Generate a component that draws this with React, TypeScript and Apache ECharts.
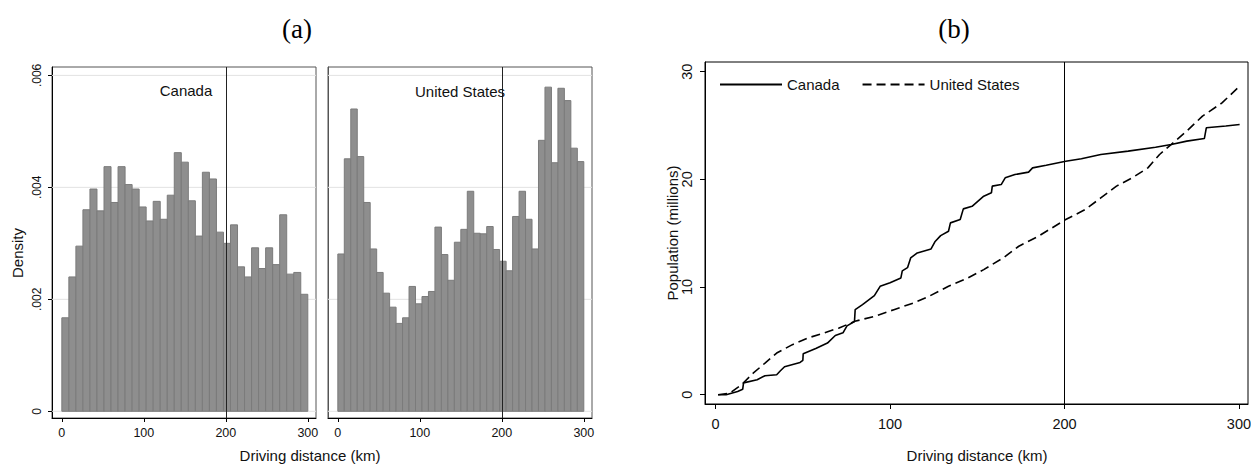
import React, { useEffect, useRef } from "react";
import * as echarts from "echarts";

// Panel (a): histogram densities (bins over 0–300 km)
const canadaDensity = [
  0.00167, 0.0024, 0.00295, 0.0036, 0.00397, 0.00358, 0.00437, 0.00373, 0.00437,
  0.00405, 0.00397, 0.00365, 0.0034, 0.00375, 0.00343, 0.00386, 0.00462, 0.00445,
  0.00376, 0.00313, 0.00427, 0.00415, 0.0032, 0.003, 0.00333, 0.00258, 0.0024,
  0.00292, 0.00255, 0.00292, 0.00262, 0.00351, 0.00245, 0.00248, 0.00209,
];
const usDensity = [
  0.00281, 0.00451, 0.0054, 0.00455, 0.00373, 0.0029, 0.00248, 0.00211, 0.00186,
  0.00157, 0.00167, 0.00223, 0.00192, 0.00205, 0.00214, 0.00329, 0.0028, 0.00234,
  0.00302, 0.00325, 0.00393, 0.00318, 0.00317, 0.0033, 0.00289, 0.00268, 0.00251,
  0.00348, 0.00393, 0.00343, 0.0029, 0.00484, 0.00579, 0.00444, 0.00577, 0.00555,
  0.0047, 0.00446,
];
const histRange = [0, 300];
const densityTicks = [0, 0.002, 0.004, 0.006];
const distanceTicks = [0, 100, 200, 300];
const cutoffKm = 200;

// Panel (b): cumulative population (millions) by driving distance (km)
const canadaKm = [
  1.4, 6, 12.6, 15.5, 16, 23.8, 28.3, 35, 37, 39.5, 48.4, 50, 50.2, 57.4, 64.1, 68.6,
  73, 75.3, 79.6, 80, 84.2, 91, 94.3, 100, 106.2, 107, 110, 111.8, 115.6, 123.5,
  125.7, 129, 133.5, 134.6, 140.2, 142, 147, 153.7, 158.1, 158.6, 163.7, 166, 171.6,
  179.4, 181.7, 189.5, 200.7, 209.7, 220.8, 236.5, 252.2, 261.2, 270.1, 280.2, 281.3,
  292.5, 300.4,
];
const canadaPop = [
  0, 0, 0.3, 0.5, 1.1, 1.4, 1.77, 1.86, 2.2, 2.6, 3.0, 3.2, 3.8, 4.3, 4.8, 5.5,
  5.75, 6.4, 6.8, 7.9, 8.37, 9.2, 10.07, 10.4, 10.85, 11.5, 11.8, 12.7, 13.17, 13.54,
  14.2, 14.78, 15.18, 15.96, 16.27, 17.26, 17.5, 18.44, 18.75, 19.37, 19.52, 20.14,
  20.45, 20.67, 21.07, 21.32, 21.69, 21.91, 22.31, 22.62, 22.99, 23.24, 23.55, 23.8,
  24.79, 24.95, 25.1,
];
const usKm = [
  1.4, 8.1, 14.8, 21.5, 28.3, 35, 44, 52.9, 61.9, 70.8, 79.8, 91, 102.2, 113.4, 122.3,
  133.5, 144.7, 153.7, 164.8, 173.8, 185, 200.7, 211.9, 220.8, 229.8, 238.8, 247.8,
  254.5, 263.4, 270.1, 279.1, 290.3, 300.4,
];
const usPop = [
  0, 0.15, 0.93, 2.0, 2.94, 3.87, 4.65, 5.27, 5.73, 6.2, 6.82, 7.28, 7.9, 8.52, 9.14,
  10.07, 10.85, 11.62, 12.7, 13.79, 14.72, 16.27, 17.2, 18.28, 19.37, 20.14, 21.07,
  22.31, 23.55, 24.48, 25.88, 27.1, 28.66,
];
const popTicks = [0, 10, 20, 30];

const SANS = "'Liberation Sans', Arial, sans-serif";
const SERIF = "'Liberation Serif', 'DejaVu Serif', serif";

function binData(values: number[]) {
  const w = (histRange[1] - histRange[0]) / values.length;
  return values.map((v, i) => [histRange[0] + i * w, histRange[0] + (i + 1) * w, v]);
}

const barRender = (params: any, api: any) => {
  const p0 = api.coord([api.value(0), api.value(2)]);
  const p1 = api.coord([api.value(1), 0]);
  return {
    type: "rect",
    shape: { x: p0[0], y: p0[1], width: p1[0] - p0[0], height: p1[1] - p0[1] },
    style: { fill: "#8e8e8e", stroke: "#7b7b7b", lineWidth: 1 },
  };
};

const gridLineRender = (params: any, api: any) => {
  const cs = params.coordSys;
  const y = api.coord([0, api.value(1)])[1];
  return {
    type: "line",
    shape: { x1: cs.x, y1: y, x2: cs.x + cs.width, y2: y },
    style: { stroke: "#e2e2e2", lineWidth: 1 },
  };
};

const vline = (color: string) => ({
  silent: true,
  symbol: "none",
  label: { show: false },
  lineStyle: { color, width: 1, type: "solid" },
  data: [{ xAxis: cutoffKm }],
});

export default function App() {
  const ref = useRef<HTMLDivElement>(null);
  useEffect(() => {
    if (!ref.current) return;
    const chart = echarts.init(ref.current, undefined, { renderer: "svg" });

    const xAxisA = (gridIndex: number) => ({
      type: "value",
      gridIndex,
      min: -12,
      max: 310,
      splitLine: { show: false },
      axisLine: { show: true, onZero: false, lineStyle: { color: "#000", width: 1 } },
      axisTick: { show: true, length: 4, customValues: distanceTicks, lineStyle: { color: "#000" } },
      axisLabel: {
        show: true,
        customValues: distanceTicks,
        margin: 8,
        fontSize: 12.5,
        color: "#111",
        fontFamily: SANS,
      },
    });
    const yAxisA = (gridIndex: number, labels: boolean) => ({
      type: "value",
      gridIndex,
      min: -0.00012,
      max: 0.00615,
      splitLine: { show: false },
      axisLine: { show: true, onZero: false, lineStyle: { color: labels ? "#000" : "#555", width: 1 } },
      axisTick: { show: labels, length: 4, customValues: densityTicks, lineStyle: { color: "#000" } },
      axisLabel: {
        show: labels,
        customValues: densityTicks,
        rotate: 90,
        margin: 9,
        fontSize: 12,
        color: "#111",
        fontFamily: SANS,
        formatter: (v: number) => (v === 0 ? "0" : String(v).replace(/^0/, "")),
      },
    });

    const option: any = {
      animation: false,
      backgroundColor: "#fff",
      grid: [
        { left: 52, top: 67, width: 264, height: 351, show: true, borderColor: "#555", borderWidth: 1, containLabel: false, outerBoundsMode: "none" },
        { left: 328, top: 67, width: 264, height: 351, show: true, borderColor: "#555", borderWidth: 1, containLabel: false, outerBoundsMode: "none" },
        { left: 705, top: 62, width: 543, height: 342, show: true, borderColor: "#000", borderWidth: 1, containLabel: false, outerBoundsMode: "none" },
      ],
      xAxis: [
        xAxisA(0),
        xAxisA(1),
        {
          type: "value",
          gridIndex: 2,
          min: -6.1,
          max: 305.2,
          splitLine: { show: false },
          axisLine: { show: true, onZero: false, lineStyle: { color: "#000", width: 1 } },
          axisTick: { show: true, length: 5, customValues: distanceTicks, lineStyle: { color: "#000" } },
          axisLabel: { customValues: distanceTicks, margin: 12, fontSize: 14.5, color: "#111", fontFamily: SANS },
        },
      ],
      yAxis: [
        yAxisA(0, true),
        yAxisA(1, false),
        {
          type: "value",
          gridIndex: 2,
          min: -0.86,
          max: 30.9,
          splitLine: { show: false },
          axisLine: { show: true, onZero: false, lineStyle: { color: "#000", width: 1 } },
          axisTick: { show: true, length: 5, customValues: popTicks, lineStyle: { color: "#000" } },
          axisLabel: { customValues: popTicks, rotate: 90, margin: 11, fontSize: 14.5, color: "#111", fontFamily: SANS },
        },
      ],
      legend: {
        left: 714,
        top: 72,
        itemWidth: 62,
        itemHeight: 14,
        itemGap: 22,
        selectedMode: false,
        itemStyle: { opacity: 0 },
        textStyle: { fontSize: 15, color: "#111", fontFamily: SANS },
        data: ["Canada", "United States"],
      },
      series: [
        {
          type: "custom",
          xAxisIndex: 0,
          yAxisIndex: 0,
          z: 1,
          silent: true,
          renderItem: gridLineRender,
          encode: { x: 0, y: 1 },
          data: densityTicks.map((v) => [0, v]),
        },
        {
          type: "custom",
          xAxisIndex: 1,
          yAxisIndex: 1,
          z: 1,
          silent: true,
          renderItem: gridLineRender,
          encode: { x: 0, y: 1 },
          data: densityTicks.map((v) => [0, v]),
        },
        {
          type: "custom",
          name: "Canada density",
          xAxisIndex: 0,
          yAxisIndex: 0,
          z: 2,
          renderItem: barRender,
          encode: { x: [0, 1], y: 2 },
          data: binData(canadaDensity),
          markLine: vline("#222"),
        },
        {
          type: "custom",
          name: "United States density",
          xAxisIndex: 1,
          yAxisIndex: 1,
          z: 2,
          renderItem: barRender,
          encode: { x: [0, 1], y: 2 },
          data: binData(usDensity),
          markLine: vline("#222"),
        },
        {
          type: "line",
          name: "Canada",
          xAxisIndex: 2,
          yAxisIndex: 2,
          symbol: "none",
          showSymbol: false,
          lineStyle: { color: "#000", width: 1.6, type: "solid" },
          itemStyle: { color: "#000" },
          data: canadaKm.map((k, i) => [k, canadaPop[i]]),
          markLine: vline("#000"),
        },
        {
          type: "line",
          name: "United States",
          xAxisIndex: 2,
          yAxisIndex: 2,
          symbol: "none",
          showSymbol: false,
          lineStyle: { color: "#000", width: 1.6, type: [9, 5] },
          itemStyle: { color: "#000" },
          data: usKm.map((k, i) => [k, usPop[i]]),
        },
      ],
      graphic: [
        { type: "text", x: 297, y: 29, style: { text: "(a)", font: `27px ${SERIF}`, fill: "#000", align: "center", verticalAlign: "middle" } },
        { type: "text", x: 954, y: 29, style: { text: "(b)", font: `27px ${SERIF}`, fill: "#000", align: "center", verticalAlign: "middle" } },
        { type: "text", x: 186, y: 90, z: 10, style: { text: "Canada", font: `15px ${SANS}`, fill: "#111", align: "center", verticalAlign: "middle" } },
        { type: "text", x: 460, y: 91, z: 10, style: { text: "United States", font: `15px ${SANS}`, fill: "#111", align: "center", verticalAlign: "middle" } },
        { type: "text", x: 17, y: 253, rotation: Math.PI / 2, style: { text: "Density", font: `15px ${SANS}`, fill: "#111", align: "center", verticalAlign: "middle" } },
        { type: "text", x: 310, y: 455, style: { text: "Driving distance (km)", font: `15px ${SANS}`, fill: "#111", align: "center", verticalAlign: "middle" } },
        { type: "text", x: 672, y: 233, rotation: Math.PI / 2, style: { text: "Population (millions)", font: `15px ${SANS}`, fill: "#111", align: "center", verticalAlign: "middle" } },
        { type: "text", x: 977, y: 455, style: { text: "Driving distance (km)", font: `15px ${SANS}`, fill: "#111", align: "center", verticalAlign: "middle" } },
      ],
    };
    chart.setOption(option);
    return () => chart.dispose();
  }, []);
  return <div ref={ref} style={{ position: "absolute", left: 0, top: 0, width: 1251, height: 464 }} />;
}
